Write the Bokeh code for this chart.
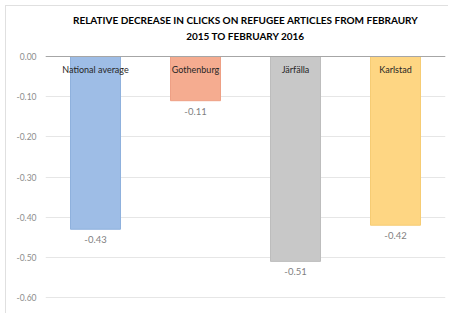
from bokeh.plotting import figure
from bokeh.models import Range1d, FactorRange, ColumnDataSource, Title, Span, NumeralTickFormatter, FixedTicker
from bokeh.core.properties import value
from bokeh.embed import file_html
from bokeh.resources import INLINE

categories = ["National average", "Gothenburg", "Järfälla", "Karlstad"]
values = [-0.43, -0.11, -0.51, -0.42]
value_labels = ["-0.43", "-0.11", "-0.51", "-0.42"]
fill_colors = ["#9ebde6", "#f5ac90", "#c8c8c8", "#fed683"]
edge_colors = ["#8fb1dd", "#eea085", "#bdbdbd", "#f6cc74"]
y_ticks = [0.0, -0.1, -0.2, -0.3, -0.4, -0.5, -0.6]
title_lines = ["RELATIVE DECREASE IN CLICKS ON REFUGEE ARTICLES FROM FEBRAURY", "2015 TO FEBRUARY 2016"]

src = ColumnDataSource(dict(cat=categories, val=values, lab=value_labels,
                            fill=fill_colors, edge=edge_colors, zero=[0.0] * len(categories)))

p = figure(width=443, height=308, x_range=FactorRange(factors=categories, range_padding=0),
           y_range=Range1d(-0.6049, 0.0324), output_backend="svg", toolbar_location=None,
           min_border_left=39, min_border_right=4, min_border_top=37, min_border_bottom=15)
p.title = None
p.add_layout(Title(text=title_lines[1], align="center", text_font="Lato", text_font_size="10px",
                   text_font_style="bold", text_color="#000000", standoff=4), "above")
p.add_layout(Title(text=title_lines[0], align="center", text_font="Lato", text_font_size="10px",
                   text_font_style="bold", text_color="#000000", standoff=0), "above")

p.outline_line_color = None
p.xaxis.visible = False
p.xgrid.visible = False
p.ygrid.grid_line_color = "#e6e6e6"
p.ygrid.ticker = FixedTicker(ticks=y_ticks)
p.yaxis.ticker = FixedTicker(ticks=y_ticks)
p.yaxis.formatter = NumeralTickFormatter(format="0.00")
p.yaxis.axis_line_color = None
p.yaxis.major_tick_line_color = None
p.yaxis.minor_tick_line_color = None
p.yaxis.major_tick_out = 0
p.yaxis.major_tick_in = 0
p.yaxis.major_label_text_color = "#8c8c8c"
p.yaxis.major_label_text_font = "Lato"
p.yaxis.major_label_text_font_size = "8.5px"
p.yaxis.major_label_standoff = 9

p.vbar(x="cat", top="zero", bottom="val", width=0.5, source=src,
       fill_color="fill", line_color="edge", line_width=1)

p.add_layout(Span(location=0, dimension="width", line_color="#a6a6a6", line_width=1))

p.text(x="cat", y="zero", text="cat", source=src, text_align="center", text_baseline="middle",
       y_offset=13, text_font=value("Lato"), text_font_size="9px", text_color="#262626")
p.text(x="cat", y="val", text="lab", source=src, text_align="center", text_baseline="middle",
       y_offset=10.5, text_font=value("Lato"), text_font_size="9.5px", text_color="#7f7f7f")

p.styles = {"margin": "5px 0 0 5px", "border-left": "1px solid #e0e0e0", "border-top": "1px solid #e0e0e0"}

open("out.html", "w").write(file_html(p, INLINE))
